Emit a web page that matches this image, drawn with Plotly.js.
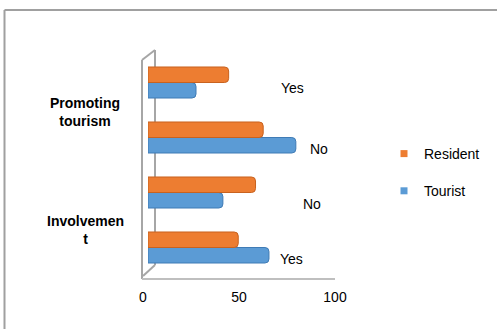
<!DOCTYPE html>
<html>
<head>
<meta charset="utf-8">
<script src="https://cdn.plot.ly/plotly-3.0.1.min.js"></script>
<style>
  html, body { margin: 0; padding: 0; background: #fff; }
  #chart { width: 497px; height: 329px; }
</style>
</head>
<body>
<div id="chart"></div>
<script>
// Survey answers, listed bottom to top as drawn on the category axis
const groups = ['Involvement', 'Involvement', 'Promoting tourism', 'Promoting tourism'];
const answers = ['Yes', 'No', 'No', 'Yes'];
const residentValues = [47, 56, 60, 42];
const touristValues = [63, 39, 77, 25];
const groupLabels = ['Promoting<br>tourism', 'Involvemen<br>t'];
const seriesNames = ['Resident', 'Tourist'];
const xTicks = [0, 50, 100];

const ORANGE = '#ED7D31';
const BLUE = '#5B9BD5';
const FONT = 'Liberation Sans, Arial, sans-serif';

// Plot area in page pixels, used to place the frame and wall lines
const PLOT = { left: 148, right: 340, top: 55, bottom: 275 };
const W = 497, H = 329;
const px = x => (x - PLOT.left) / (PLOT.right - PLOT.left);
const py = y => (PLOT.bottom - y) / (PLOT.bottom - PLOT.top);

const categories = groups.map((g, i) => g + ' / ' + answers[i]);

const barStyle = (color, edge) => ({
  color: color,
  line: { color: edge, width: 1 },
  cornerradius: 4
});

const traces = [
  {
    type: 'bar', orientation: 'h', name: seriesNames[1],
    y: categories, x: touristValues,
    marker: barStyle(BLUE, '#3F7BB5'),
    showlegend: false, hoverinfo: 'x+name'
  },
  {
    type: 'bar', orientation: 'h', name: seriesNames[0],
    y: categories, x: residentValues,
    marker: barStyle(ORANGE, '#C8621F'),
    showlegend: false, hoverinfo: 'x+name'
  },
  // legend keys with small square swatches
  {
    type: 'scatter', mode: 'markers', name: seriesNames[0], legendgroup: 'r',
    x: [null], y: [null],
    marker: { symbol: 'square', size: 7, color: ORANGE }
  },
  {
    type: 'scatter', mode: 'markers', name: seriesNames[1], legendgroup: 't',
    x: [null], y: [null],
    marker: { symbol: 'square', size: 7, color: BLUE }
  }
];

// Answer labels beside each bar pair
const answerX = [74.5, 85.5, 89, 75];
const answerShift = [-11, -11, -11, -5.5];
const annotations = categories.map((c, i) => ({
  xref: 'x', yref: 'y', x: answerX[i], y: c, yshift: answerShift[i],
  text: answers[i], showarrow: false, xanchor: 'center',
  font: { family: FONT, size: 14, color: '#000' }
}));

// Group labels on the left
[112, 230].forEach((yy, i) => {
  annotations.push({
    xref: 'paper', yref: 'paper', x: px(85), y: py(yy),
    text: '<b>' + groupLabels[i] + '</b>', showarrow: false,
    xanchor: 'center', yanchor: 'middle', align: 'center',
    font: { family: FONT, size: 14, color: '#000' }
  });
});

const grey = '#A6A6A6';
const seg = (x0, y0, x1, y1, color, width) => ({
  type: 'line', xref: 'paper', yref: 'paper', layer: 'below',
  x0: px(x0), y0: py(y0), x1: px(x1), y1: py(y1),
  line: { color: color, width: width }
});

const shapes = [
  // outer frame (top and left edges visible)
  seg(4.5, 10, 520, 10, '#A0A0A0', 2),
  seg(4.5, 10, 4.5, 350, '#A0A0A0', 2),
  // 3-D wall and floor outline
  seg(142, 60, 142, 279, grey, 2),
  seg(142, 60, 155, 50, grey, 2),
  seg(155, 50, 155, 265, grey, 2),
  seg(155, 265, 143, 276, grey, 2),
  seg(142, 279, 335, 279, '#BFBFBF', 2)
];

const layout = {
  width: W, height: H,
  margin: { l: PLOT.left, r: W - PLOT.right, t: PLOT.top, b: H - PLOT.bottom, pad: 0 },
  paper_bgcolor: '#fff', plot_bgcolor: 'rgba(0,0,0,0)',
  barmode: 'group', bargap: 0.436, bargroupgap: 0,
  font: { family: FONT, size: 14, color: '#000' },
  xaxis: {
    range: [0, 100], tickvals: xTicks, ticktext: xTicks.map(String),
    showgrid: false, zeroline: false, showline: false, ticks: '',
    ticklabelshift: -5, ticklabelstandoff: 12,
    tickfont: { family: FONT, size: 14, color: '#000' }, fixedrange: true
  },
  yaxis: {
    type: 'category', categoryorder: 'array', categoryarray: categories,
    showticklabels: false, showgrid: false, zeroline: false, showline: false,
    ticks: '', fixedrange: true
  },
  showlegend: true,
  legend: {
    x: px(384), y: py(138), xanchor: 'left', yanchor: 'top',
    traceorder: 'grouped', tracegroupgap: 16, itemwidth: 30,
    font: { family: FONT, size: 14, color: '#000' },
    bgcolor: 'rgba(0,0,0,0)'
  },
  annotations: annotations,
  shapes: shapes
};

Plotly.newPlot('chart', traces, layout, { displayModeBar: false, staticPlot: true });
</script>
</body>
</html>
